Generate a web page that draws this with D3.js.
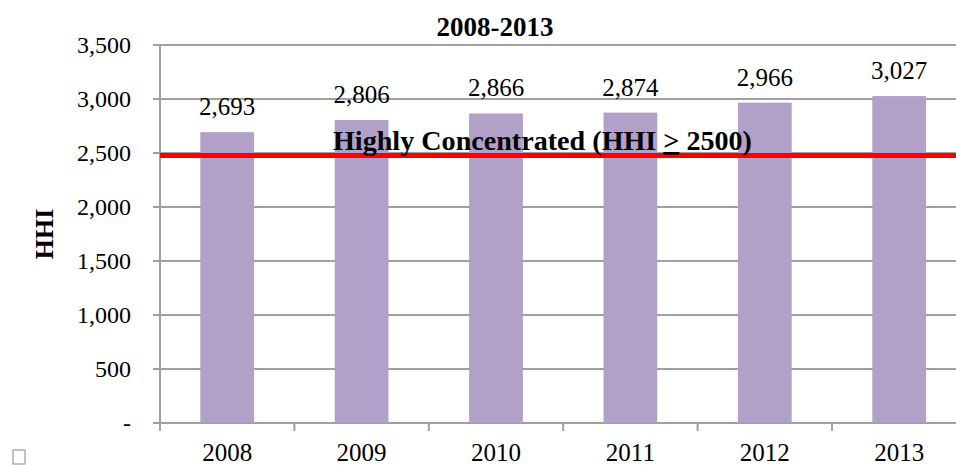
<!DOCTYPE html>
<html>
<head>
<meta charset="utf-8">
<script src="https://cdn.jsdelivr.net/npm/d3@7"></script>
<style>
  html, body { margin: 0; padding: 0; background: #fff; }
  svg { display: block; }
  text { font-family: "Liberation Serif", "Times New Roman", Times, serif; fill: #000; }
</style>
</head>
<body>
<svg id="chart" width="956" height="465"></svg>
<script>
const years = ["2008", "2009", "2010", "2011", "2012", "2013"];
const hhiValues = [2693, 2806, 2866, 2874, 2966, 3027];
const yTicks = [0, 500, 1000, 1500, 2000, 2500, 3000, 3500];
const threshold = 2500;
const titleText = "2008-2013";
const yAxisTitle = "HHI";
const thresholdLabel = ["Highly Concentrated (HHI ", ">", " 2500)"];

const svg = d3.select("#chart");
const W = 956, H = 465;
const margin = { left: 160, top: 45, bottom: 42 };
const plotRight = 966.4;

const x = d3.scaleBand().domain(years).range([margin.left, plotRight]).paddingInner(0.6).paddingOuter(0.3);
const y = d3.scaleLinear().domain([0, 3500]).range([H - margin.bottom, margin.top]);

const gridColor = "#a0a0a0";

// gridlines
svg.append("g").selectAll("line").data(yTicks).join("line")
  .attr("x1", margin.left - 7).attr("x2", W)
  .attr("y1", d => y(d)).attr("y2", d => y(d))
  .attr("stroke", gridColor).attr("stroke-width", 2);

// y tick labels
svg.append("g").selectAll("text").data(yTicks).join("text")
  .attr("x", margin.left - 29).attr("y", d => y(d)).attr("dy", "0.34em")
  .attr("text-anchor", "end").style("font-size", "24px")
  .text(d => d === 0 ? "-" : d3.format(",")(d));

// bars
svg.append("g").selectAll("rect").data(hhiValues).join("rect")
  .attr("x", (d, i) => x(years[i])).attr("width", x.bandwidth())
  .attr("y", d => y(d)).attr("height", d => y(0) - y(d))
  .attr("fill", "#b1a0c8");

// y axis line
svg.append("line").attr("x1", margin.left).attr("x2", margin.left)
  .attr("y1", y(3500)).attr("y2", y(0) + 8)
  .attr("stroke", gridColor).attr("stroke-width", 2);

// x ticks at band boundaries
const step = x.step();
const boundaries = years.map((d, i) => margin.left + i * step).slice(1);
svg.append("g").selectAll("line").data(boundaries).join("line")
  .attr("x1", d => d).attr("x2", d => d)
  .attr("y1", y(0)).attr("y2", y(0) + 8)
  .attr("stroke", gridColor).attr("stroke-width", 2);

// x labels
svg.append("g").selectAll("text").data(years).join("text")
  .attr("x", d => x(d) + x.bandwidth() / 2).attr("y", H - 4)
  .attr("text-anchor", "middle").style("font-size", "25px")
  .text(d => d);

// value labels
svg.append("g").selectAll("text").data(hhiValues).join("text")
  .attr("x", (d, i) => x(years[i]) + x.bandwidth() / 2).attr("y", d => y(d) - 17)
  .attr("text-anchor", "middle").style("font-size", "25px")
  .text(d => d3.format(",")(d));

// threshold line
svg.append("line").attr("x1", margin.left).attr("x2", W)
  .attr("y1", y(threshold) + 2.5).attr("y2", y(threshold) + 2.5)
  .attr("stroke", "#ff0000").attr("stroke-width", 5);

// threshold label
const tl = svg.append("text").attr("x", 333).attr("y", y(threshold) - 3)
  .attr("text-anchor", "start").style("font-size", "27px").style("font-weight", "bold")
  .attr("textLength", 419).attr("lengthAdjust", "spacingAndGlyphs");
tl.append("tspan").text(thresholdLabel[0]);
tl.append("tspan").text(thresholdLabel[1]).style("text-decoration", "underline");
tl.append("tspan").text(thresholdLabel[2]);

// title
svg.append("text").attr("x", 495).attr("y", 36).attr("text-anchor", "middle")
  .style("font-size", "27px").style("font-weight", "bold").text(titleText);

// y axis title
svg.append("text").attr("transform", "translate(53,234) rotate(-90)")
  .attr("text-anchor", "middle").style("font-size", "26px").style("font-weight", "bold")
  .text(yAxisTitle);

// stray box glyph
svg.append("rect").attr("x", 13).attr("y", 450).attr("width", 12).attr("height", 14)
  .attr("fill", "none").attr("stroke", "#888").attr("stroke-width", 1);
</script>
</body>
</html>
